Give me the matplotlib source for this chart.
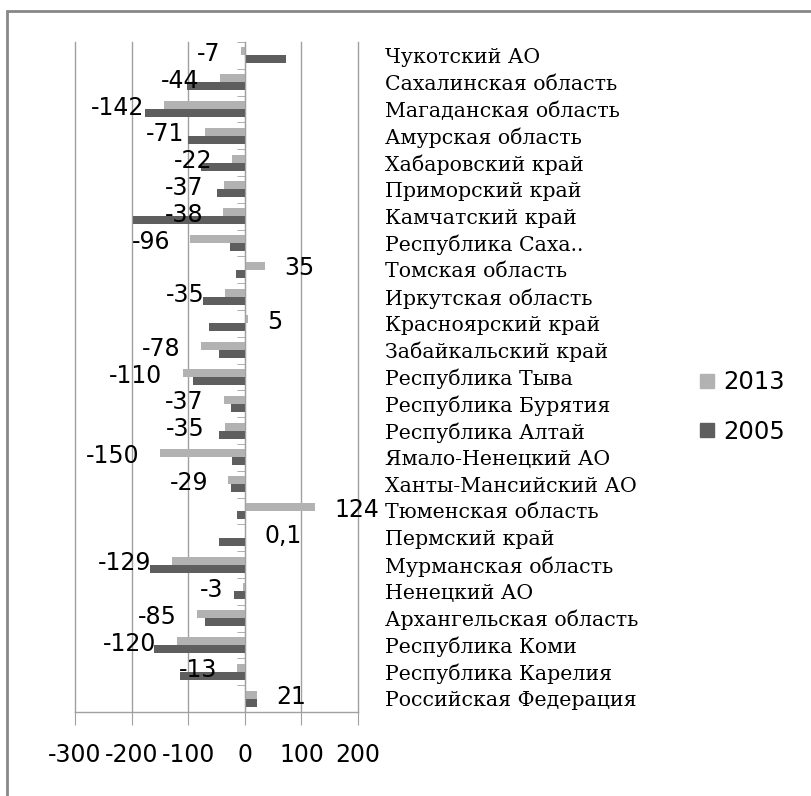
import matplotlib
matplotlib.use("Agg")
import matplotlib.pyplot as plt
import numpy as np
from matplotlib.patches import Rectangle
from matplotlib.lines import Line2D

# categories from top to bottom
categories = ["Чукотский АО", "Сахалинская область", "Магаданская область",
              "Амурская область", "Хабаровский край", "Приморский край",
              "Камчатский край", "Республика Саха..", "Томская область",
              "Иркутская область", "Красноярский край", "Забайкальский край",
              "Республика Тыва", "Республика Бурятия", "Республика Алтай",
              "Ямало-Ненецкий АО", "Ханты-Мансийский АО", "Тюменская область",
              "Пермский край", "Мурманская область", "Ненецкий АО",
              "Архангельская область", "Республика Коми", "Республика Карелия",
              "Российская Федерация"]
values_2013 = [-7, -44, -142, -71, -22, -37, -38, -96, 35, -35, 5, -78, -110,
               -37, -35, -150, -29, 124, 0.1, -129, -3, -85, -120, -13, 21]
labels_2013 = ["-7", "-44", "-142", "-71", "-22", "-37", "-38", "-96", "35",
               "-35", "5", "-78", "-110", "-37", "-35", "-150", "-29", "124",
               "0,1", "-129", "-3", "-85", "-120", "-13", "21"]
values_2005 = [73, -103, -177, -100, -78, -49, -198, -27, -16, -74, -63, -46,
               -92, -24, -46, -22, -24, -13, -46, -167, -19, -71, -160, -114, 22]
xticks = [-300, -200, -100, 0, 100, 200]
series_names = ["2013", "2005"]

c13 = "#b2b2b2"
c05 = "#5e5e5e"
grid_c = "#a0a0a0"

fig = plt.figure(figsize=(8.11, 7.96), dpi=100)
W, H = 811, 796
ax = fig.add_axes([75 / W, 1 - 712 / H, (358 - 75) / W, (712 - 42) / H])

n = len(categories)
y = np.arange(n)[::-1]  # top category highest
h = 0.3
ax.barh(y + h / 2, values_2013, height=h, color=c13, zorder=3)
ax.barh(y - h / 2, values_2005, height=h, color=c05, zorder=3)

ax.set_xlim(-300, 200)
ax.set_ylim(-0.5, n - 0.5)
ax.set_xticks(xticks)
ax.set_xticklabels([str(t) for t in xticks], fontsize=17, family="DejaVu Sans")
ax.tick_params(axis="x", direction="out", length=9, color=grid_c, pad=13)
for t in xticks:
    ax.axvline(t, color=grid_c, lw=1, zorder=1, clip_on=False)

for s in ["top", "right"]:
    ax.spines[s].set_visible(False)
ax.spines["bottom"].set_color(grid_c)
ax.spines["bottom"].set_linewidth(1)
ax.spines["left"].set_position(("data", 0))
ax.spines["left"].set_color(grid_c)
ax.spines["left"].set_zorder(4)

ax.set_yticks(y)
ax.set_yticklabels(categories, fontsize=14.8, family="DejaVu Serif")
ax.set_yticks(np.arange(n + 1) - 0.5, minor=True)
ax.tick_params(axis="y", which="major", left=False, right=False,
               labelleft=False, labelright=True, pad=16)
ax.tick_params(axis="y", which="minor", left=True, direction="out",
               length=6, color=grid_c)

for yi, v, lab in zip(y, values_2013, labels_2013):
    if v < 0:
        ax.annotate(lab, (v, yi + 0.05), xytext=(-14.5, 0), textcoords="offset points",
                    ha="right", va="center", fontsize=17, zorder=5)
    else:
        ax.annotate(lab, (v, yi + 0.05), xytext=(14, 0), textcoords="offset points",
                    ha="left", va="center", fontsize=17, zorder=5)

handles = [Line2D([], [], marker="s", ls="", color=c13, markersize=10),
           Line2D([], [], marker="s", ls="", color=c05, markersize=10)]
fig.legend(handles, series_names, loc="center left",
           bbox_to_anchor=(675 / W, 1 - 407 / H), frameon=False,
           fontsize=17.5, handletextpad=0.3, labelspacing=1.05, handlelength=0.8)

fig.patches.append(Rectangle((7 / W, -0.1), 1.2, 1 - 11 / H + 0.1,
                             transform=fig.transFigure, fill=False,
                             edgecolor="#888888", lw=2))

fig.savefig("out.png", dpi=100)
